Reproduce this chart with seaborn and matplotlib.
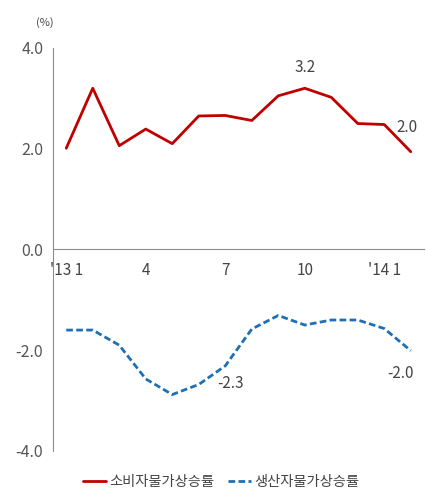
import numpy as np
import pandas as pd
import matplotlib
matplotlib.use("Agg")
import matplotlib.pyplot as plt
import seaborn as sns
from matplotlib.lines import Line2D

# ==== data ====
months = ["'13 1", "2", "3", "4", "5", "6", "7", "8", "9", "10", "11", "12", "'14 1", "2"]
tick_labels = ["'13 1", "4", "7", "10", "'14 1"]
cpi = [2.01, 3.20, 2.06, 2.39, 2.10, 2.65, 2.66, 2.56, 3.05, 3.20, 3.02, 2.50, 2.48, 1.94]
ppi = [-1.60, -1.60, -1.90, -2.57, -2.88, -2.68, -2.31, -1.58, -1.31, -1.50, -1.40, -1.40, -1.57, -2.01]
series_names = ["소비자물가상승률", "생산자물가상승률"]

df = pd.DataFrame({
    "pos": list(range(len(months))) * 2,
    "value": cpi + ppi,
    "series": [series_names[0]] * len(cpi) + [series_names[1]] * len(ppi),
})

sns.set_style("white")
plt.rcParams["font.family"] = ["Noto Sans CJK KR", "DejaVu Sans"]

red = "#C00000"
blue = "#1F6FB5"

fig = plt.figure(figsize=(4.26, 4.97), dpi=100)
ax = fig.add_axes([0.1244, 0.0926, 0.8710, 0.8109])

sns.lineplot(data=df, x="pos", y="value", hue="series", style="series",
             palette={series_names[0]: red, series_names[1]: blue},
             dashes={series_names[0]: "", series_names[1]: (2.4, 1.2)},
             linewidth=2.0, legend=False, ax=ax)

ax.set_xlim(-0.5, len(months) - 0.5)
ax.set_ylim(-4, 4)
ax.set_xlabel("")
ax.set_ylabel("")

# ==== axes styling ====
gray = "#8c8c8c"
for s in ["top", "right"]:
    ax.spines[s].set_visible(False)
ax.spines["left"].set_color(gray)
ax.spines["bottom"].set_color(gray)
ax.spines["bottom"].set_position(("data", 0))

ax.set_yticks([4, 2, 0, -2, -4])
ax.set_yticklabels(["4.0", "2.0", "0.0", "-2.0", "-4.0"], color="#555555", fontsize=11.5)
ax.tick_params(axis="y", length=4, color=gray, pad=3)

label_pos = [months.index(t) for t in tick_labels]
ax.set_xticks(np.arange(-0.5, len(months), 1.0), minor=True)
ax.set_xticks(label_pos)
ax.set_xticklabels(tick_labels, color="#444444", fontsize=11)
ax.tick_params(axis="x", which="major", length=0, pad=9)
ax.tick_params(axis="x", which="minor", length=4, color=gray, direction="out")

# ==== annotations ====
ax.text(9, 3.45, "3.2", ha="center", va="bottom", fontsize=11, color="#444444")
ax.text(12.85, 2.25, "2.0", ha="center", va="bottom", fontsize=11, color="#444444")
ax.text(6.2, -2.5, "-2.3", ha="center", va="top", fontsize=11, color="#444444")
ax.text(12.6, -2.3, "-2.0", ha="center", va="top", fontsize=11, color="#444444")
fig.text(0.106, 0.955, "(%)", ha="center", va="center", fontsize=8, color="#444444")

# ==== legend ====
handles = [Line2D([0], [0], color=red, lw=2.0),
           Line2D([0], [0], color=blue, lw=2.0, dashes=(2.4, 1.2))]
fig.legend(handles, series_names, loc="center", bbox_to_anchor=(0.519, 0.03),
           ncol=2, frameon=False, fontsize=10.3, handlelength=1.6,
           handletextpad=0.2, columnspacing=1.0, labelcolor="#444444")

fig.savefig("out.png", dpi=100)
